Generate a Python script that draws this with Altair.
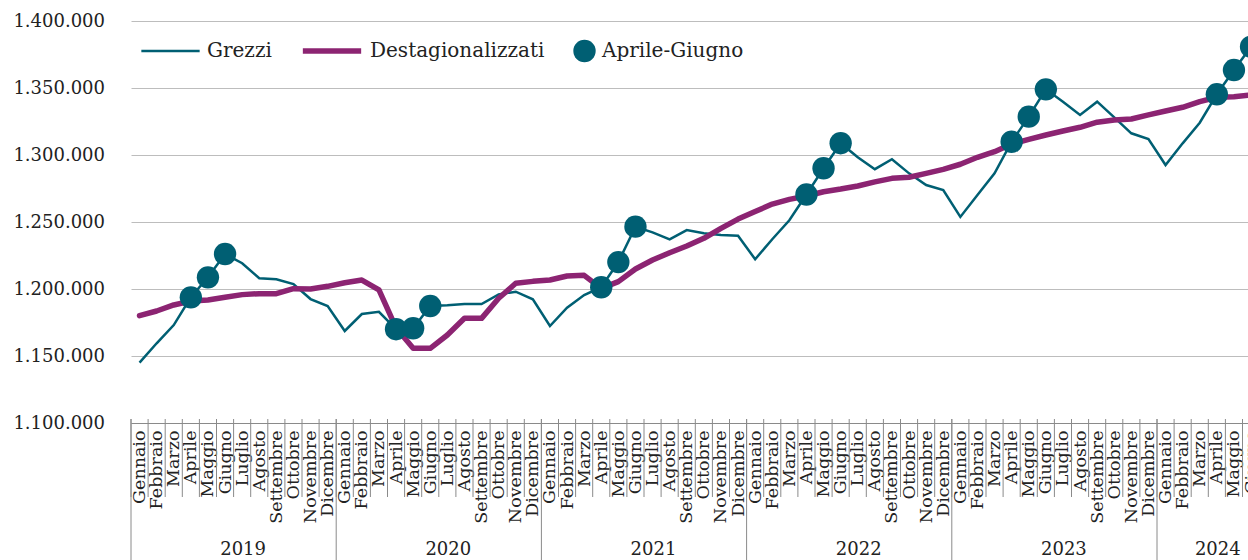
import altair as alt
import pandas as pd

MONTHS = ["Gennaio", "Febbraio", "Marzo", "Aprile", "Maggio", "Giugno",
          "Luglio", "Agosto", "Settembre", "Ottobre", "Novembre", "Dicembre"]
YEARS = [2019, 2020, 2021, 2022, 2023, 2024]

GREZZI = [
    1145000, 1159500, 1173100, 1193800, 1208700, 1226100, 1219200, 1208000, 1207200, 1203700, 1192500, 1187300,
    1168700, 1181300, 1183000, 1170000, 1170700, 1187300, 1187800, 1188800, 1188800, 1196000, 1198000, 1192300,
    1172400, 1186000, 1195500, 1201300, 1220100, 1246500, 1242300, 1237100, 1244000, 1241600, 1240300, 1239800,
    1222200, 1237100, 1251300, 1270500, 1290100, 1308800, 1298300, 1289400, 1296800, 1286300, 1277600, 1273900,
    1253800, 1270100, 1286300, 1309900, 1328600, 1349000, 1339800, 1329900, 1339800, 1328100, 1316200, 1311900,
    1292500, 1308700, 1324100, 1345300, 1363400, 1380800,
]
DESTAG = [
    1180100, 1183600, 1188100, 1191000, 1191800, 1193800, 1195800, 1196500, 1196500, 1200200, 1200000, 1202000,
    1204700, 1206700, 1199300, 1171000, 1155700, 1155700, 1165700, 1178100, 1178100, 1193100, 1204300, 1205700,
    1206700, 1209700, 1210200, 1200500, 1205500, 1214900, 1221600, 1227100, 1232100, 1237800, 1245300, 1252200,
    1257800, 1263400, 1266900, 1269400, 1272600, 1274600, 1276900, 1279900, 1282600, 1283400, 1286300, 1289300,
    1293100, 1298300, 1302500, 1308200, 1311700, 1314900, 1317900, 1320700, 1324500, 1326100, 1326900, 1329900,
    1332800, 1335600, 1339800, 1343100, 1343500, 1344800,
]
HIGHLIGHT = ["Aprile", "Maggio", "Giugno"]
SERIES = ["Grezzi", "Destagionalizzati", "Aprile-Giugno"]
COLORS = ["#005f73", "#8c2472", "#005f73"]
Y_TICKS = [1100000, 1150000, 1200000, 1250000, 1300000, 1350000, 1400000]

FONT = "DejaVu Serif"
TXT = "#222222"
N = len(GREZZI)

base_rows = [{"idx": i, "year": YEARS[i // 12], "month": MONTHS[i % 12]} for i in range(N)]
df_g = pd.DataFrame([dict(r, value=v, series="Grezzi") for r, v in zip(base_rows, GREZZI)])
df_d = pd.DataFrame([dict(r, value=v, series="Destagionalizzati") for r, v in zip(base_rows, DESTAG)])
df_p = df_g[df_g["month"].isin(HIGHLIGHT)].copy()
df_p["series"] = "Aprile-Giugno"

df_msep = pd.DataFrame({"idx": [i - 0.5 for i in range(N + 1)]})
year_start = df_g.groupby("year")["idx"].min().reset_index()
df_ysep = pd.DataFrame({"idx": year_start["idx"] - 0.5})
df_ylab = df_g.groupby("year")["idx"].mean().reset_index()
df_ylab["label"] = df_ylab["year"].astype(str)

month_expr = "[" + ",".join("'%s'" % m for m in MONTHS) + "][datum.value % 12]"

x_enc = alt.X(
    "idx:Q",
    scale=alt.Scale(domain=[-0.5, N - 0.5], range=[0, N * 17.1], nice=False, zero=False),
    axis=alt.Axis(
        values=list(range(N)), labelExpr=month_expr, labelAngle=-90,
        labelFont=FONT, labelFontSize=17.5, labelColor=TXT, labelPadding=7,
        ticks=False, tickSize=0, grid=False, domain=True, domainColor="#8a8a8a",
        domainWidth=1, title=None, labelOverlap=False, labelFlush=False, labelBound=False,
    ),
)
y_enc = alt.Y(
    "value:Q",
    scale=alt.Scale(domain=[1100000, 1400000], nice=False, zero=False),
    axis=alt.Axis(
        values=Y_TICKS, labelExpr="replace(format(datum.value, ',.0f'), regexp(',', 'g'), '.')",
        labelFont=FONT, labelFontSize=18, labelColor=TXT, labelPadding=26.5,
        ticks=False, domain=False, grid=True, gridColor="#bdbdbd", gridWidth=1, title=None,
    ),
)

legend = alt.Legend(
    title=None, orient="none", legendX=9, legendY=18, direction="horizontal",
    labelFont=FONT, labelFontSize=20, labelColor=TXT, labelOffset=6,
    columnPadding=28, clipHeight=24, labelLimit=400,
)
color_enc = alt.Color("series:N", scale=alt.Scale(domain=SERIES, range=COLORS), legend=legend)
sw_enc = alt.StrokeWidth("series:N", scale=alt.Scale(type="ordinal", domain=SERIES, range=[2.5, 5.5, 0]), legend=legend)

line_g = alt.Chart(df_g).mark_line(strokeJoin="miter").encode(
    x=x_enc, y=y_enc, color=color_enc, strokeWidth=sw_enc
)
line_d = alt.Chart(df_d).mark_line(strokeJoin="round", strokeCap="round").encode(
    x=x_enc, y=y_enc, color=color_enc, strokeWidth=sw_enc
)
points = alt.Chart(df_p).mark_point(filled=True, opacity=1).encode(
    x=x_enc, y=y_enc, color=color_enc,
    shape=alt.Shape("series:N", scale=alt.Scale(domain=SERIES, range=["stroke", "stroke", "circle"]), legend=legend),
    size=alt.Size("series:N", scale=alt.Scale(type="ordinal", domain=SERIES, range=[3400, 3400, 500]), legend=legend),
)

msep = alt.Chart(df_msep).mark_rule(color="#8a8a8a", strokeWidth=1).encode(
    x=x_enc, y=alt.value(398), y2=alt.value(476)
)
ysep = alt.Chart(df_ysep).mark_rule(color="#8a8a8a", strokeWidth=1).encode(
    x=x_enc, y=alt.value(398), y2=alt.value(560)
)
ylab = alt.Chart(df_ylab).mark_text(
    font=FONT, fontSize=18, color=TXT, baseline="middle", align="center", dx=9.5
).encode(x=x_enc, y=alt.value(529), text="label:N")

chart = alt.layer(msep, ysep, ylab, line_g, line_d, points).properties(
    width=1117, height=402,
    autosize=alt.AutoSizeParams(type="none"),
    padding={"left": 131, "top": 21, "right": 0, "bottom": 137},
    background="white",
).configure_view(stroke=None)

chart.save("out.html", embed_options={"renderer": "svg", "actions": False})
